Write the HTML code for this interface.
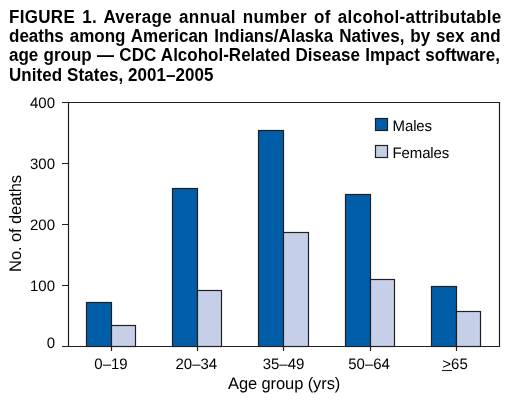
<!DOCTYPE html>
<html><head><meta charset="utf-8">
<style>
html,body{margin:0;padding:0;background:#fff;}
body{width:516px;height:413px;position:relative;overflow:hidden;font-family:"Liberation Sans",sans-serif;color:#000;}
.tl{position:absolute;left:8.6px;width:492.6px;font-weight:bold;font-size:17px;line-height:17px;white-space:nowrap;text-align:justify;text-align-last:justify;transform:scaleY(1.05);transform-origin:0 0;will-change:transform;}
.tl.last{text-align-last:left;}
svg{position:absolute;left:0;top:0;will-change:transform;}
svg text{font-family:"Liberation Sans",sans-serif;fill:#000;text-rendering:geometricPrecision;}
</style></head>
<body>
<div class="tl" style="top:8px;letter-spacing:0.3px">FIGURE 1. Average annual number of alcohol-attributable</div>
<div class="tl" style="top:27px;width:491.6px">deaths among American Indians/Alaska Natives, by sex and</div>
<div class="tl" style="top:46px;width:490.9px">age group — CDC Alcohol-Related Disease Impact software,</div>
<div class="tl last" style="top:66px;letter-spacing:0.06px">United States, 2001–2005</div>
<svg width="516" height="413" viewBox="0 0 516 413">
<g fill="none" stroke="#231f20" stroke-width="1.2">
<path d="M62 102.5H499.5V346.5H62"/>
<path d="M68.5 102.5V346.5"/>
<path d="M62 163.5H68.5M62 224.5H68.5M62 285.5H68.5"/>
</g>
<g stroke="#231f20" stroke-width="1.2">
<rect x="86.5" y="302.5" width="25" height="44" fill="#005ea8"/>
<rect x="111.5" y="325.5" width="24" height="21" fill="#c5d0e8"/>
<rect x="172.5" y="188.5" width="25" height="158" fill="#005ea8"/>
<rect x="197.5" y="290.5" width="24" height="56" fill="#c5d0e8"/>
<rect x="258.5" y="130.5" width="25" height="216" fill="#005ea8"/>
<rect x="283.5" y="232.5" width="25" height="114" fill="#c5d0e8"/>
<rect x="345.5" y="194.5" width="25" height="152" fill="#005ea8"/>
<rect x="370.5" y="279.5" width="24" height="67" fill="#c5d0e8"/>
<rect x="431.5" y="286.5" width="25" height="60" fill="#005ea8"/>
<rect x="456.5" y="311.5" width="24" height="35" fill="#c5d0e8"/>
<rect x="375.5" y="118.5" width="12" height="12" fill="#005ea8"/>
<rect x="375.5" y="145.5" width="12" height="12" fill="#c5d0e8"/>
</g>
<g stroke="#231f20" stroke-width="1.2">
<path d="M111.5 346.5V351M197.5 346.5V351M283.5 346.5V351M370.5 346.5V351M456.5 346.5V351"/>
</g>
<g font-size="15" text-anchor="end">
<text transform="translate(55,108) scale(1,1.01)">400</text>
<text transform="translate(55,169) scale(1,1.01)">300</text>
<text transform="translate(55,230) scale(1,1.01)">200</text>
<text transform="translate(55,291) scale(1,1.01)">100</text>
<text transform="translate(55,348) scale(1,1.01)">0</text>
</g>
<g font-size="15" text-anchor="middle">
<text transform="translate(111,369) scale(1,1.01)">0–19</text>
<text transform="translate(196.3,369) scale(1,1.01)">20–34</text>
<text transform="translate(283.5,369) scale(1,1.01)">35–49</text>
<text transform="translate(369.1,369) scale(1,1.01)">50–64</text>
<text transform="translate(455,369) scale(1,1.01)">&gt;65</text>
</g>
<path d="M442 370.5H452" stroke="#231f20" stroke-width="1.1"/>
<g font-size="15" letter-spacing="-0.15">
<text transform="translate(392.6,131) scale(1,1.01)">Males</text>
<text transform="translate(392.6,158) scale(1,1.01)">Females</text>
</g>
<text transform="translate(284.1,389) scale(1,1.01)" font-size="16.5" letter-spacing="-0.1" text-anchor="middle">Age group (yrs)</text>
<text transform="translate(21,223.5) rotate(-90) scale(1,1.01)" font-size="16.5" letter-spacing="-0.1" text-anchor="middle">No. of deaths</text>
</svg>
</body></html>
